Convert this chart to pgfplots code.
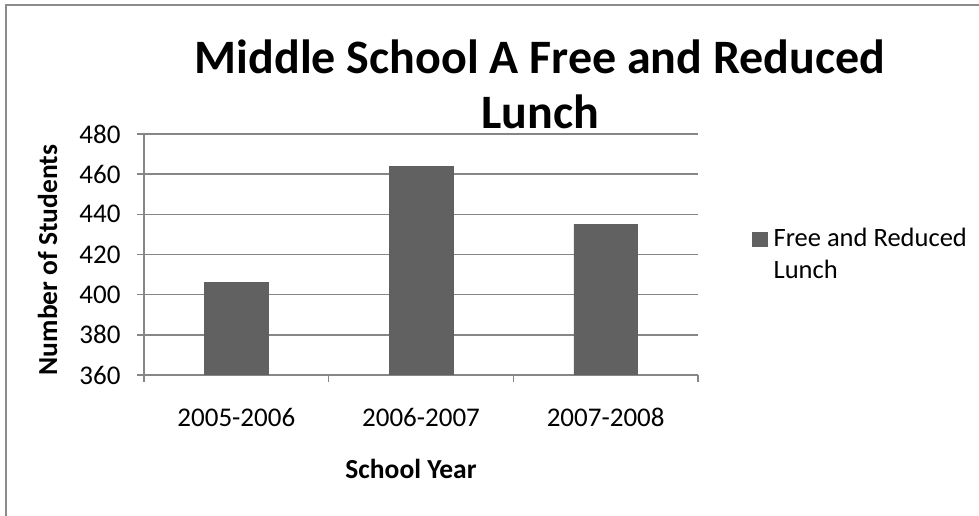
\documentclass[border=0pt]{standalone}
\usepackage{fontspec}
\setmainfont{Carlito}
\usepackage{pgfplots}
\pgfplotsset{compat=1.18}
\definecolor{barcol}{HTML}{616161}
\definecolor{gridcol}{HTML}{868686}
\definecolor{framecol}{HTML}{8C8C8C}
\begin{document}
\begin{tikzpicture}[x=1pt,y=1pt]
\useasboundingbox (0,0) rectangle (979,516);
\draw[framecol, line width=2pt] (6,0) -- (6,511) -- (979,511);
\begin{axis}[
 at={(144pt,141pt)}, anchor=south west,
 scale only axis, width=554pt, height=241pt,
 ybar, bar width=0.345,
 xmin=-0.5, xmax=2.5, ymin=360, ymax=480, ytick={360,380,...,480},
 xtick={0,1,2}, xticklabels={2005-2006,2006-2007,2007-2008},
 major x tick style={draw=none},
 minor xtick={-0.5,0.5,1.5,2.5},
 tick align=outside, major tick length=7pt, minor tick length=7pt,
 axis x line*=bottom, axis y line*=left,
 axis line style={gridcol, line width=1.5pt, -},
 ymajorgrids, grid style={gridcol, line width=1.5pt},
 tick style={gridcol, line width=1.5pt},
 minor tick style={gridcol, line width=1.5pt},
 ticklabel style={font=\fontsize{27}{32}\selectfont},
 yticklabel style={xshift=-13pt},
 xticklabel style={yshift=-23pt},
 /pgf/number format/assume math mode=true,
 legend style={draw=none, fill=none, inner sep=0pt, outer sep=0pt,
   at={(1.0975,0.618)}, anchor=north west,
   font=\fontsize{26.5}{32}\selectfont,
   cells={anchor=base west, align=left}},
 legend image code/.code={\fill[barcol] (0pt,32pt) rectangle (15pt,46pt);\path (19pt,40pt);},
]
\addplot[fill=barcol, draw=gray!75!black, line width=0.6pt] coordinates {(0,406) (1,464) (2,435)};
\addlegendentry{Free and Reduced\\Lunch}
\end{axis}
\node[anchor=base, font=\bfseries\fontsize{48}{56}\selectfont] at (540,442) {Middle School A Free and Reduced};
\node[anchor=base, font=\bfseries\fontsize{48}{56}\selectfont] at (540,387) {Lunch};
\node[anchor=base, font=\bfseries\fontsize{27.5}{32}\selectfont] at (411,37) {School Year};
\node[anchor=base, rotate=90, font=\bfseries\fontsize{27.5}{32}\selectfont] at (57,256) {Number of Students};
\end{tikzpicture}
\end{document}
